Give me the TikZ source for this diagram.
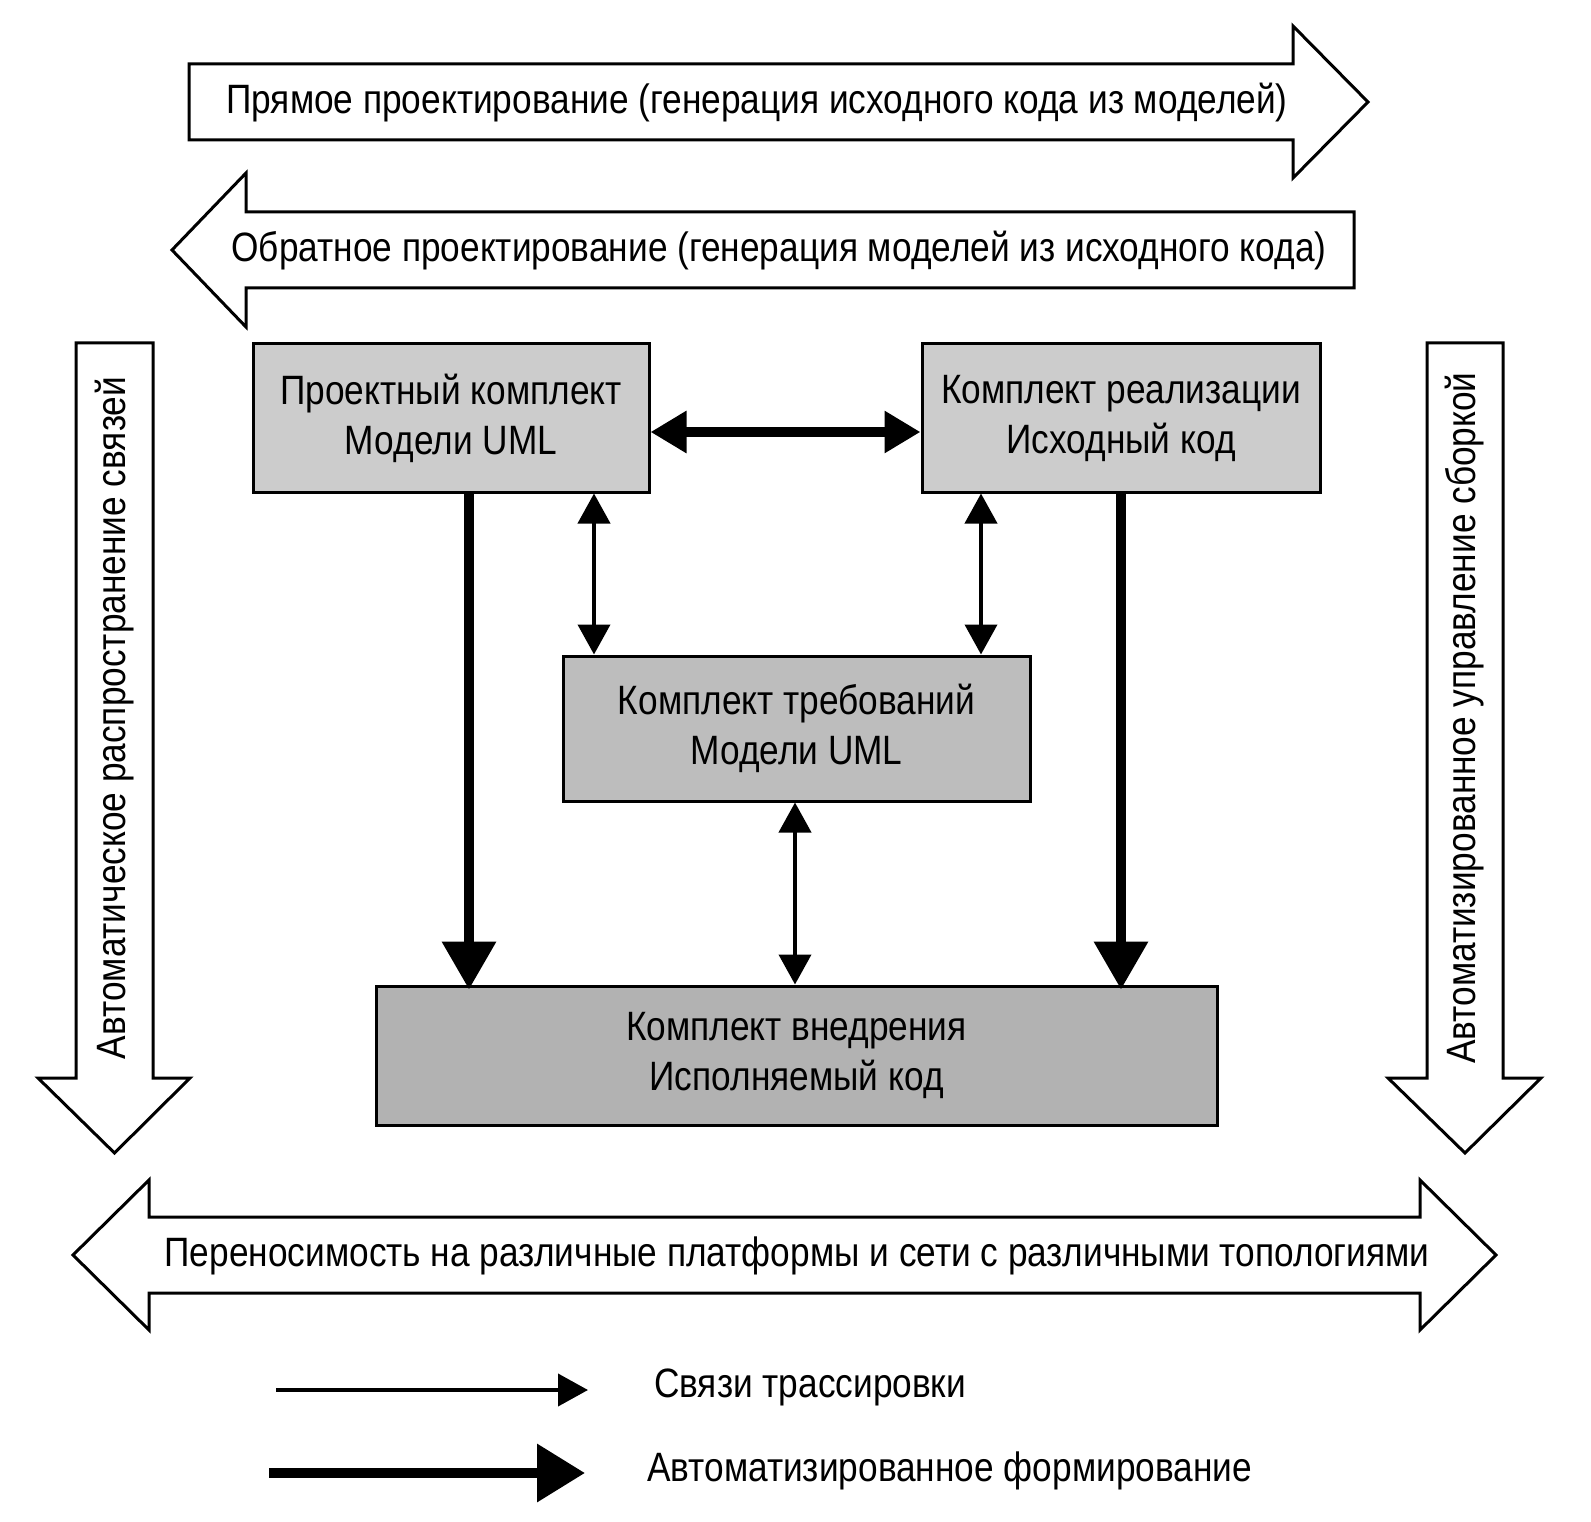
\documentclass[tikz,border=0pt]{standalone}
\usepackage{fontspec}
\setmainfont[FakeStretch=0.86]{Liberation Sans}
\usetikzlibrary{arrows.meta}
\begin{document}
\begin{tikzpicture}[x=1pt,y=-1pt,
  blockarrow/.style={draw, line width=3pt, fill=white, line join=miter},
  lbl/.style={inner sep=0pt, font=\fontsize{41}{50}\selectfont},
  box/.style={draw, line width=3pt, align=center, inner sep=0pt, font=\fontsize{41}{50}\selectfont},
  thinarr/.style={line width=4pt, {Triangle[length=30pt,width=32pt]}-{Triangle[length=30pt,width=32pt]}},
  thickarr/.style={line width=10pt, -{Triangle[length=48pt,width=52pt]}},
  hthick/.style={line width=10pt, {Triangle[length=36pt,width=40pt]}-{Triangle[length=36pt,width=40pt]}},
  legthin/.style={line width=4pt, -{Triangle[length=30pt,width=32pt]}},
  legthick/.style={line width=10pt, -{Triangle[length=48pt,width=56pt]}}
]
\useasboundingbox[fill=white] (0,0) rectangle (1591,1522);

% block arrows
\draw[blockarrow] (189,64) -- (1293,64) -- (1293,26) -- (1368,102) -- (1293,178) -- (1293,140) -- (189,140) -- cycle;
\node[lbl] (fwd) at (757,103) {Прямое проектирование (генерация исходного кода из моделей)};

\draw[blockarrow] (172,250) -- (246,173) -- (246,212) -- (1354,212) -- (1354,288) -- (246,288) -- (246,327) -- cycle;
\node[lbl] (rev) at (779,251) {Обратное проектирование (генерация моделей из исходного кода)};

\draw[blockarrow] (76,343) -- (153,343) -- (153,1078) -- (190,1078) -- (114.5,1153) -- (38,1078) -- (76,1078) -- cycle;
\node[lbl, rotate=90] (left) at (114.5,718) {Автоматическое распространение связей};

\draw[blockarrow] (1427,343) -- (1503,343) -- (1503,1078) -- (1541,1078) -- (1465,1153) -- (1388,1078) -- (1427,1078) -- cycle;
\node[lbl, rotate=90] (right) at (1465,718) {Автоматизированное управление сборкой};

\draw[blockarrow] (73,1255) -- (149,1180) -- (149,1217) -- (1420,1217) -- (1420,1180) -- (1496,1255) -- (1420,1330) -- (1420,1293) -- (149,1293) -- (149,1330) -- cycle;
\node[lbl] (port) at (797,1256) {Переносимость на различные платформы и сети с различными топологиями};

% boxes
\node[box, fill=black!20, minimum width=396pt, minimum height=148pt] (b1) at (451,418) {Проектный комплект\\Модели UML};
\node[box, fill=black!20, minimum width=398pt, minimum height=148pt] (b2) at (1121,418) {Комплект реализации\\Исходный код};
\node[box, fill=black!26, minimum width=467pt, minimum height=145pt] (b3) at (796.5,728.5) {Комплект требований\\Модели UML};
\node[box, fill=black!30, minimum width=841pt, minimum height=139pt] (b4) at (796.5,1055.5) {Комплект внедрения\\Исполняемый код};

% connectors
\coordinate (hy) at (0,432);
\coordinate (xa) at (594,0);
\coordinate (xb) at (981,0);
\coordinate (xc) at (795,0);
\coordinate (xd) at (469,0);
\coordinate (xe) at (1121,0);
\draw[hthick] (b1.east |- hy) -- (b2.west |- hy);
\draw[thinarr] (b1.south -| xa) -- (b3.north -| xa);
\draw[thinarr] (b2.south -| xb) -- (b3.north -| xb);
\draw[thinarr] (b3.south -| xc) -- (b4.north -| xc);
\draw[thickarr] (b1.south -| xd) -- ([yshift=-5pt]b4.north -| xd);
\draw[thickarr] (b2.south -| xe) -- ([yshift=-5pt]b4.north -| xe);

% legend
\coordinate (l1a) at (276,1390);
\coordinate (l1b) at (588,1390);
\coordinate (l2a) at (269,1473);
\coordinate (l2b) at (585,1473);
\draw[legthin] (l1a) -- (l1b);
\draw[legthick] (l2a) -- (l2b);
\node[lbl, anchor=west] (leg1) at (654,1387) {Связи трассировки};
\node[lbl, anchor=west] (leg2) at (647,1471) {Автоматизированное формирование};
\end{tikzpicture}
\end{document}
